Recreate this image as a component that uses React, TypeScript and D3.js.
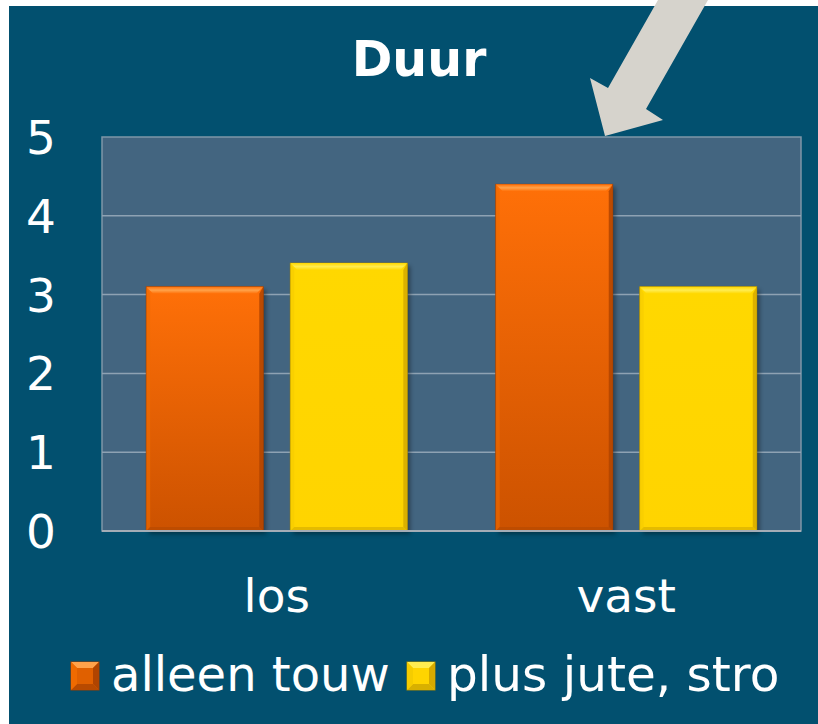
import React from "react";
import * as d3 from "d3";

const categories = ["los", "vast"];
const seriesNames = ["alleen touw", "plus jute, stro"];
const alleenTouw = [3.1, 4.4];
const plusJuteStro = [3.4, 3.1];
const yTicks = [0, 1, 2, 3, 4, 5];
const title = "Duur";

const W = 818;
const H = 724;
const FONT = "'DejaVu Sans', Verdana, sans-serif";

const palettes = [
  { top: "#ff7008", bottom: "#cc5200", bevelTop: "#ffa24a", right: "#b04400", left: "#ef6a00", bot: "#b84a00", edge: "#9a3c00" },
  { top: "#ffd800", bottom: "#ffd400", bevelTop: "#ffec50", right: "#d6aa00", left: "#f5cc00", bot: "#d8b000", edge: "#a88800" },
];

function Bar({ x, y, w, h, i }: { x: number; y: number; w: number; h: number; i: number }) {
  const p = palettes[i];
  const b = 7;
  const r = 4;
  return (
    <g>
      <rect x={x + 3} y={y + 3} width={w} height={h} fill="#000" opacity={0.35} filter="url(#blur)" />
      <rect x={x} y={y} width={w} height={h} fill={`url(#grad${i})`} stroke={p.edge} strokeWidth={0.8} />
      <polygon points={`${x},${y} ${x + w},${y} ${x + w - b},${y + b} ${x + b},${y + b}`} fill={`url(#bev${i})`} />
      <polygon points={`${x + w},${y} ${x + w},${y + h} ${x + w - r},${y + h - r} ${x + w - r},${y + b}`} fill={p.right} opacity={0.85} />
      <polygon points={`${x},${y} ${x + r},${y + b} ${x + r},${y + h - r} ${x},${y + h}`} fill={p.left} opacity={0.6} />
      <polygon points={`${x},${y + h} ${x + w},${y + h} ${x + w - r},${y + h - r} ${x + r},${y + h - r}`} fill={p.bot} opacity={0.7} />
    </g>
  );
}

function LegendMarker({ x, y, s, i }: { x: number; y: number; s: number; i: number }) {
  const p = palettes[i];
  const b = 6;
  return (
    <g>
      <rect x={x} y={y} width={s} height={s} fill={i === 0 ? "#e06000" : "#ffd400"} stroke={p.edge} strokeWidth={1} />
      <polygon points={`${x},${y} ${x + s},${y} ${x + s - b},${y + b} ${x + b},${y + b}`} fill={p.bevelTop} />
      <polygon points={`${x + s},${y} ${x + s},${y + s} ${x + s - b},${y + s - b} ${x + s - b},${y + b}`} fill={p.right} />
      <polygon points={`${x},${y + s} ${x + s},${y + s} ${x + s - b},${y + s - b} ${x + b},${y + s - b}`} fill={p.bot} />
      <polygon points={`${x},${y} ${x + b},${y + b} ${x + b},${y + s - b} ${x},${y + s}`} fill={p.left} />
    </g>
  );
}

export default function App() {
  const plotLeft = 102;
  const plotRight = 801;
  const plotTop = 137;
  const plotBottom = 531;

  const x0 = d3.scaleBand<string>().domain(categories).range([plotLeft, plotRight]).paddingInner(0).paddingOuter(0);
  const x1 = d3
    .scaleBand<string>()
    .domain(seriesNames)
    .range([0, x0.bandwidth()])
    .paddingInner(0.1875)
    .paddingOuter(0.307);
  const y = d3.scaleLinear().domain([0, 5]).range([plotBottom, plotTop]);

  const series = [alleenTouw, plusJuteStro];

  return (
    <svg width={W} height={H} style={{ position: "absolute", left: 0, top: 0 }} xmlns="http://www.w3.org/2000/svg">
      <defs>
        <filter id="blur" x="-20%" y="-20%" width="140%" height="140%">
          <feGaussianBlur stdDeviation="2" />
        </filter>
        {palettes.map((p, i) => (
          <linearGradient key={"g" + i} id={`grad${i}`} x1="0" y1="0" x2="0" y2="1">
            <stop offset="0" stopColor={p.top} />
            <stop offset="1" stopColor={p.bottom} />
          </linearGradient>
        ))}
        {palettes.map((p, i) => (
          <linearGradient key={"b" + i} id={`bev${i}`} x1="0" y1="0" x2="0" y2="1">
            <stop offset="0" stopColor={p.top} />
            <stop offset="0.5" stopColor={p.bevelTop} />
            <stop offset="1" stopColor={p.top} />
          </linearGradient>
        ))}
      </defs>
      <rect x={0} y={0} width={W} height={H} fill="#ffffff" />
      <rect x={9} y={6} width={W - 9} height={H - 6} fill="#02506f" />

      <text x={419} y={76} textAnchor="middle" fill="#ffffff" fontFamily={FONT} fontWeight="bold" fontSize={49}>
        {title}
      </text>

      <rect x={plotLeft} y={plotTop} width={plotRight - plotLeft} height={plotBottom - plotTop} fill="#436580" stroke="#7f96a8" strokeWidth={1.5} />
      {yTicks
        .filter((t) => t > 0 && t < 5)
        .map((t) => (
          <line key={t} x1={plotLeft} x2={plotRight} y1={y(t)} y2={y(t)} stroke="#8ea2b3" strokeWidth={1.5} />
        ))}

      {categories.map((c, ci) =>
        series.map((s, si) => {
          const bx = (x0(c) as number) + (x1(seriesNames[si]) as number);
          const by = y(s[ci]);
          return <Bar key={c + si} x={bx} y={by} w={x1.bandwidth()} h={plotBottom - by} i={si} />;
        })
      )}

      <line x1={plotLeft} x2={plotRight} y1={plotBottom} y2={plotBottom} stroke="#a4adb6" strokeWidth={2} />

      {yTicks.map((t) => (
        <text key={t} x={56} y={y(t)} dy="0.36em" textAnchor="end" fill="#ffffff" fontFamily={FONT} fontSize={47}>
          {t}
        </text>
      ))}

      {categories.map((c) => (
        <text key={c} x={(x0(c) as number) + x0.bandwidth() / 2} y={612} textAnchor="middle" fill="#ffffff" fontFamily={FONT} fontSize={47}>
          {c}
        </text>
      ))}

      <LegendMarker x={71} y={662} s={28} i={0} />
      <text x={111} y={691} fill="#ffffff" fontFamily={FONT} fontSize={48}>
        {seriesNames[0]}
      </text>
      <LegendMarker x={407} y={662} s={28} i={1} />
      <text x={447} y={691} fill="#ffffff" fontFamily={FONT} fontSize={48.5}>
        {seriesNames[1]}
      </text>

      <polygon points="658,0 708,0 646,109 663,120 605,136 590,78 608,88" fill="#d6d3cc" />
    </svg>
  );
}
